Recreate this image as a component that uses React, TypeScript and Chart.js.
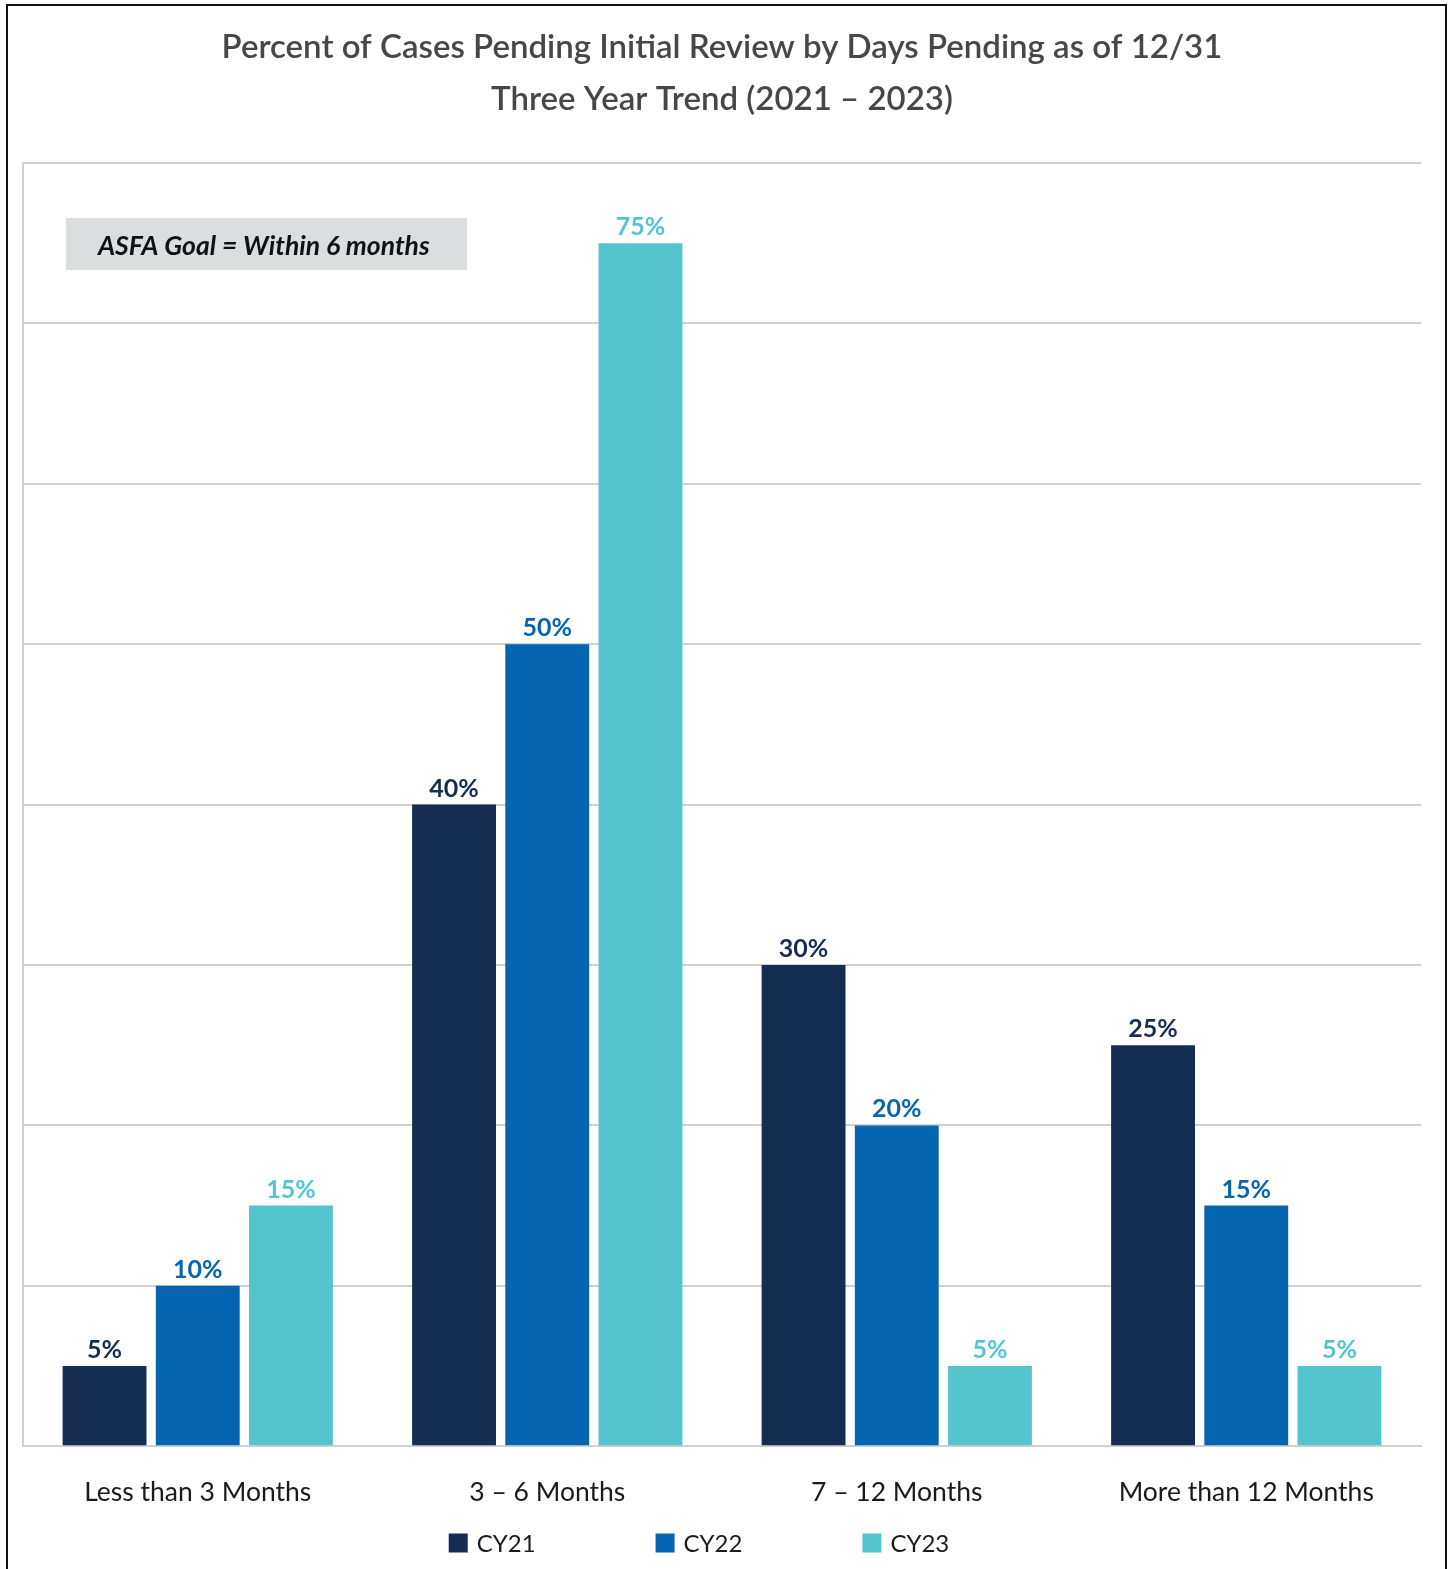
import React, { useEffect, useRef } from "react";
import { Chart, registerables } from "chart.js";

Chart.register(...registerables);

const categories = ["Less than 3 Months", "3 \u2013 6 Months", "7 \u2013 12 Months", "More than 12 Months"];
const seriesNames = ["CY21", "CY22", "CY23"];
const cy21 = [5, 40, 30, 25];
const cy22 = [10, 50, 20, 15];
const cy23 = [15, 75, 5, 5];
const seriesColors = ["#152d52", "#0565b0", "#54c5ce"];
const titleLines = [
  "Percent of Cases Pending Initial Review by Days Pending as of 12/31",
  "Three Year Trend (2021 \u2013 2023)",
];
const goalText = "ASFA Goal = Within 6 months";
const yMax = 80;
const yStep = 10;

const FONT = "Lato, 'Open Sans', sans-serif";

const valueLabelPlugin = {
  id: "valueLabels",
  afterDatasetsDraw(chart: any) {
    const ctx = chart.ctx;
    ctx.save();
    ctx.font = `bold 25px ${FONT}`;
    ctx.textAlign = "center";
    ctx.textBaseline = "alphabetic";
    chart.data.datasets.forEach((ds: any, i: number) => {
      const meta = chart.getDatasetMeta(i);
      ctx.fillStyle = ds.backgroundColor;
      meta.data.forEach((bar: any, j: number) => {
        ctx.fillText(`${ds.data[j]}%`, bar.x, bar.y - 8);
      });
    });
    ctx.restore();
  },
};

const goalBoxPlugin = {
  id: "goalBox",
  beforeDatasetsDraw(chart: any) {
    const { ctx, chartArea } = chart;
    const x = chartArea.left + 43;
    const y = chartArea.top + 55;
    ctx.save();
    ctx.fillStyle = "#dcdddf";
    ctx.fillRect(x, y, 401, 52);
    ctx.fillStyle = "#111111";
    ctx.font = `italic bold 26.5px ${FONT}`;
    ctx.textAlign = "left";
    ctx.textBaseline = "middle";
    ctx.fillText(goalText, x + 32, y + 28);
    ctx.restore();
  },
};

const customLegendPlugin = {
  id: "customLegend",
  afterDraw(chart: any) {
    const { ctx, chartArea } = chart;
    ctx.save();
    ctx.font = `24px ${FONT}`;
    ctx.textBaseline = "middle";
    ctx.textAlign = "left";
    const box = 19;
    const gapText = 9;
    const gapItem = 120;
    const items = chart.data.datasets.map((ds: any) => ({
      label: ds.label,
      color: ds.backgroundColor,
      w: box + gapText + ctx.measureText(ds.label).width,
    }));
    const total = items.reduce((s: number, it: any) => s + it.w, 0) + gapItem * (items.length - 1);
    let x = (chartArea.left + chartArea.right) / 2 - total / 2 - 23;
    const cy = 1543;
    items.forEach((it: any) => {
      ctx.fillStyle = it.color;
      ctx.fillRect(x, cy - box / 2, box, box);
      ctx.fillStyle = "#1a1a1a";
      ctx.fillText(it.label, x + box + gapText, cy + 1);
      x += it.w + gapItem;
    });
    ctx.restore();
  },
};

export default function App() {
  const canvasRef = useRef<HTMLCanvasElement | null>(null);

  useEffect(() => {
    const canvas = canvasRef.current;
    if (!canvas) return;
    const seriesData = [cy21, cy22, cy23];
    const chart = new Chart(canvas, {
      type: "bar",
      data: {
        labels: categories,
        datasets: seriesNames.map((name, i) => ({
          label: name,
          data: seriesData[i],
          backgroundColor: seriesColors[i],
          borderWidth: 0,
          categoryPercentage: 0.8,
          barPercentage: 0.9,
        })),
      },
      options: {
        responsive: false,
        animation: false,
        devicePixelRatio: 1,
        layout: { padding: { left: 23, right: 32, top: 0, bottom: 31 } },
        plugins: {
          legend: { display: false },
          tooltip: { enabled: false },
          title: {
            display: true,
            text: titleLines,
            color: "#474747",
            font: { family: FONT, size: 33, weight: "600", lineHeight: 52 / 33 },
            padding: { top: 21, bottom: 38 },
          },
        },
        scales: {
          x: {
            grid: { display: false, drawTicks: false },
            border: { display: true, color: "#d0d0d0", width: 2 },
            ticks: {
              color: "#1a1a1a",
              font: { family: FONT, size: 26.5 },
              padding: 30,
              maxRotation: 0,
            },
          },
          y: {
            min: 0,
            max: yMax,
            ticks: { display: false, stepSize: yStep },
            grid: { color: "#d0d0d0", lineWidth: 2, drawTicks: false },
            border: { display: true, color: "#d0d0d0", width: 2 },
          },
        },
      },
      plugins: [goalBoxPlugin, valueLabelPlugin, customLegendPlugin],
    });
    return () => chart.destroy();
  }, []);

  return (
    <div
      style={{
        position: "absolute",
        left: 0,
        top: 0,
        width: 1453,
        height: 1569,
        overflow: "hidden",
        background: "#ffffff",
      }}
    >
      <canvas
        ref={canvasRef}
        width={1453}
        height={1569}
        style={{ position: "absolute", left: 0, top: 0, width: 1453, height: 1569 }}
      />
      <div
        style={{
          position: "absolute",
          left: 6,
          top: 4,
          width: 1441,
          height: 1600,
          border: "2px solid #111",
          boxSizing: "border-box",
          pointerEvents: "none",
        }}
      />
    </div>
  );
}
